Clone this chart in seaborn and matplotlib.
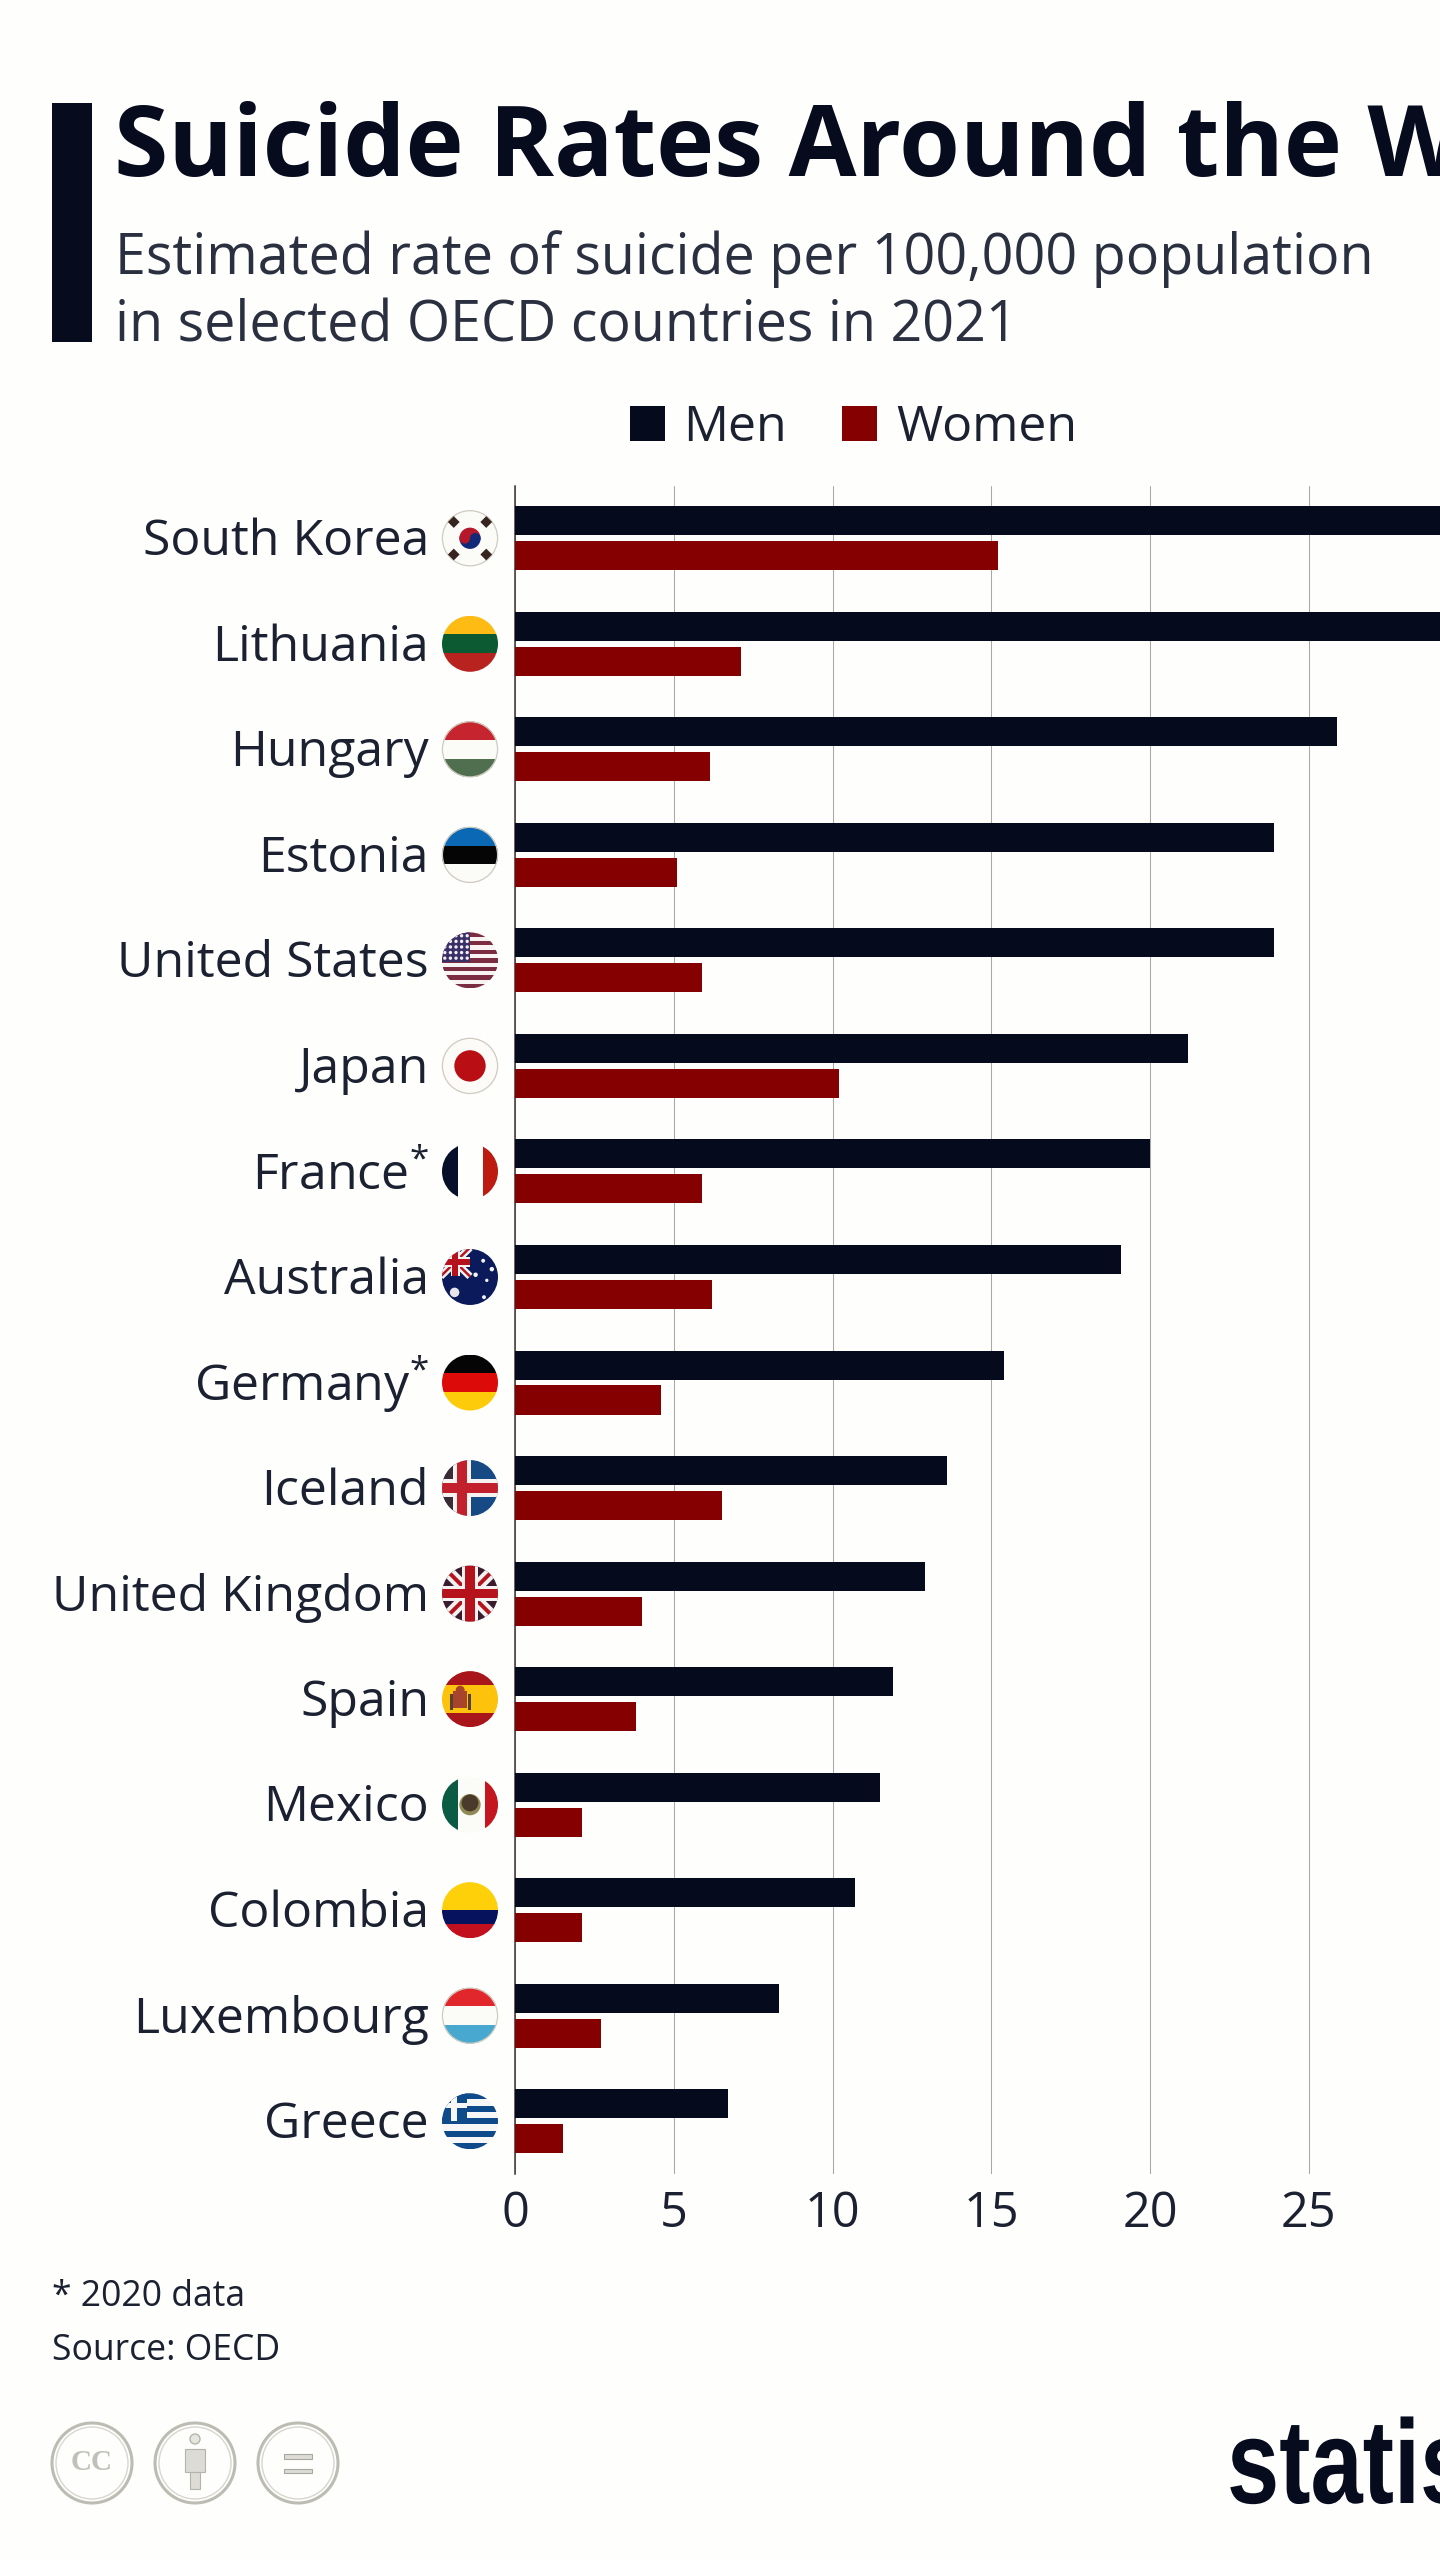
import numpy as np
import pandas as pd
import matplotlib
matplotlib.use("Agg")
import matplotlib.pyplot as plt
import seaborn as sns
from matplotlib.patches import Rectangle, Circle, Polygon, Wedge
from matplotlib.patheffects import AbstractPathEffect
from matplotlib.transforms import Affine2D, ScaledTranslation

countries = ["South Korea", "Lithuania", "Hungary", "Estonia", "United States", "Japan",
             "France", "Australia", "Germany", "Iceland", "United Kingdom", "Spain",
             "Mexico", "Colombia", "Luxembourg", "Greece"]
marked = ["France", "Germany"]
men = [35.3, 33.0, 25.9, 23.9, 23.9, 21.2, 20.0, 19.1, 15.4, 13.6, 12.9, 11.9, 11.5, 10.7, 8.3, 6.7]
women = [15.2, 7.1, 6.15, 5.1, 5.9, 10.2, 5.9, 6.2, 4.6, 6.5, 4.0, 3.8, 2.1, 2.1, 2.7, 1.5]
x_ticks = [0, 5, 10, 15, 20, 25]
series_names = ["Men", "Women"]

NAVY = "#050a1c"
RED = "#850000"
TEXT = "#1b2130"
BG = "#fefefd"

sns.set_theme(style="white")
plt.rcParams["font.family"] = ["Open Sans", "DejaVu Sans"]
plt.rcParams["mathtext.fontset"] = "custom"
plt.rcParams["mathtext.rm"] = "Open Sans"
plt.rcParams["mathtext.it"] = "Open Sans"
plt.rcParams["mathtext.bf"] = "Open Sans"
plt.rcParams["mathtext.default"] = "regular"

W, H = 1440, 2560
fig = plt.figure(figsize=(W / 100, H / 100), dpi=100, facecolor=BG)

ax = fig.add_axes([515.2 / W, 1 - 2174 / H, (W - 515.2) / W, (2174 - 485.5) / H])
ax.set_facecolor("none")

df = pd.DataFrame({
    "country": countries * 2,
    "rate": men + women,
    "sex": [series_names[0]] * len(men) + [series_names[1]] * len(women),
})
sns.barplot(data=df, y="country", x="rate", hue="sex", order=countries,
            hue_order=series_names, palette=[NAVY, RED], width=0.663, gap=0.17,
            saturation=1, errorbar=None, ax=ax, zorder=3, linewidth=0)

ax.set_xticks(x_ticks)
ax.set_xlim(0, (W - 515.2) / 31.74)
ax.set_ylim(len(countries) - 0.5, -0.5)
ax.set_xlabel("")
ax.set_ylabel("")
ax.grid(axis="x", color="#a9a9a3", linewidth=0.75, zorder=0)
ax.grid(axis="y", visible=False)
ax.set_axisbelow(True)
for s in ["top", "right", "bottom"]:
    ax.spines[s].set_visible(False)
ax.spines["left"].set_color("#3d3530")
ax.spines["left"].set_linewidth(1.1)
ax.tick_params(axis="x", length=0, pad=11, labelsize=35, labelcolor=TEXT)
ax.tick_params(axis="y", length=0, pad=62, labelsize=36, labelcolor=TEXT)
ax.set_yticks(range(len(countries)))
ax.set_yticklabels([c + r"$^{\mathrm{*}}$" if c in marked else c for c in countries])
label_nudge = {"France": 0.5, "Germany": 5.0}
for lab, c in zip(ax.get_yticklabels(), countries):
    lab.set_transform(lab.get_transform()
                      + ScaledTranslation(0, label_nudge.get(c, 2) / 100, fig.dpi_scale_trans))

handles, labels = ax.get_legend_handles_labels()
ax.get_legend().remove()
fig.legend(handles, labels, loc="center", bbox_to_anchor=(853.5 / W, 1 - 428.5 / H), ncols=2,
           frameon=False, fontsize=36, handlelength=0.7, handleheight=0.7,
           handletextpad=0.38, columnspacing=1.1, labelcolor=TEXT, borderpad=0)

ov = fig.add_axes([0, 0, 1, 1], zorder=5)
ov.set_xlim(0, W)
ov.set_ylim(H, 0)
ov.axis("off")
ov.patch.set_alpha(0)

ov.add_patch(Rectangle((52, 103), 40, 239, color="#060b1e", lw=0))
ov.text(113.5, 176, "Suicide Rates Around the World", fontsize=70.8, fontweight="bold",
        color="#060b1e", va="baseline", ha="left")
ov.text(115, 273.5, "Estimated rate of suicide per 100,000 population", fontsize=40.1,
        color="#2a3040", va="baseline")
ov.text(115, 341.5, "in selected OECD countries in 2021", fontsize=40.1,
        color="#2a3040", va="baseline")
ov.text(52, 2305.5, "* 2020 data", fontsize=25.6, color=TEXT, va="baseline")
ov.text(52, 2360, "Source: OECD", fontsize=25.6, color=TEXT, va="baseline")


class Squeeze(AbstractPathEffect):
    """Draws a text narrower about a given pixel, as a condensed face would be."""

    def __init__(self, x0, sx):
        super().__init__()
        self.x0, self.sx = x0, sx

    def draw_path(self, renderer, gc, tpath, affine, rgbFace=None):
        squeeze = Affine2D().translate(-self.x0, 0).scale(self.sx, 1).translate(self.x0, 0)
        renderer.draw_path(gc, tpath, affine + squeeze, rgbFace)


ov.text(1227, 2503, "statista", fontsize=86, fontweight="bold", color="#060b1e",
        va="baseline", family=["Liberation Sans"], path_effects=[Squeeze(1227, 0.786)])


def make_flag(cx, cy, r=28):
    T = Affine2D().scale(r, -r).translate(cx, cy) + ov.transData
    clip = Circle((0, 0), 1, transform=T, fc="none", ec="none")
    ov.add_patch(clip)

    def add(p):
        p.set_transform(T)
        ov.add_patch(p)
        p.set_clip_path(clip)
        return p

    def rect(x0, y0, x1, y1, c):
        return add(Rectangle((x0, y0), x1 - x0, y1 - y0, fc=c, ec="none"))

    def circ(x, y, rad, c):
        return add(Circle((x, y), rad, fc=c, ec="none"))

    def band(p0, p1, w, c):
        p0, p1 = np.array(p0, float), np.array(p1, float)
        d = p1 - p0
        n = np.array([-d[1], d[0]]) / np.hypot(*d) * w / 2
        return add(Polygon([p0 + n, p1 + n, p1 - n, p0 - n], fc=c, ec="none"))

    def hstripes(cols, stops=None):
        n = len(cols)
        stops = stops or [1 - 2 * k / n for k in range(n + 1)]
        for k, c in enumerate(cols):
            rect(-1.1, stops[k + 1], 1.1, stops[k], c)

    def vstripes(cols, stops):
        for k, c in enumerate(cols):
            rect(stops[k], -1.1, stops[k + 1], 1.1, c)

    def ring():
        ov.add_patch(Circle((0, 0), 0.985, transform=T, fc="none", ec="#cfcbc0", lw=0.9))

    return dict(rect=rect, circ=circ, band=band, h=hstripes, v=vstripes, ring=ring, add=add)


def union_jack(f, x0, y0, x1, y1, s=1.0):
    f["band"]((x0, y0), (x1, y1), 0.42 * s, "#f4f1f1")
    f["band"]((x0, y1), (x1, y0), 0.42 * s, "#f4f1f1")
    f["band"]((x0, y0), (x1, y1), 0.14 * s, "#b5121b")
    f["band"]((x0, y1), (x1, y0), 0.14 * s, "#b5121b")
    xm, ym = (x0 + x1) / 2, (y0 + y1) / 2
    f["rect"](xm - 0.27 * s, y0, xm + 0.27 * s, y1, "#f4f1f1")
    f["rect"](x0, ym - 0.27 * s, x1, ym + 0.27 * s, "#f4f1f1")
    f["rect"](xm - 0.17 * s, y0, xm + 0.17 * s, y1, "#b5121b")
    f["rect"](x0, ym - 0.17 * s, x1, ym + 0.17 * s, "#b5121b")


def kr(f):
    f["rect"](-1.1, -1.1, 1.1, 1.1, "#fbfbf8")
    f["ring"]()
    f["add"](Wedge((0, 0), 0.38, 0, 180, fc="#b5182a", ec="none"))
    f["add"](Wedge((0, 0), 0.38, 180, 360, fc="#102a78", ec="none"))
    f["circ"](-0.19, 0.0, 0.19, "#b5182a")
    f["circ"](0.19, 0.0, 0.19, "#102a78")
    for sx in (-1, 1):
        for sy in (-1, 1):
            q = np.array([[0, 0.21], [0.21, 0], [0, -0.21], [-0.21, 0]])
            f["add"](Polygon(q + [sx * 0.58, sy * 0.58], fc="#362420", ec="none"))


def lt(f):
    f["h"](["#fdbb14", "#0b5a31", "#b8231f"])


def hu(f):
    f["h"](["#c62530", "#fbfbf8", "#4f6f4e"])
    f["ring"]()


def ee(f):
    f["h"](["#0a68b4", "#050505", "#fbfbf8"])
    f["ring"]()


def us(f):
    for k in range(13):
        y1 = 1 - 2 * k / 13
        f["rect"](-1.1, y1 - 2 / 13, 1.1, y1, "#7c2c40" if k % 2 == 0 else "#f7f3f3")
    f["rect"](-1.1, -0.06, 0.0, 1.1, "#3a2f66")
    for x in np.arange(-0.9, 0.0, 0.2):
        for y in np.arange(0.08, 1.0, 0.2):
            f["circ"](x, y, 0.06, "#f2eef4")


def jp(f):
    f["rect"](-1.1, -1.1, 1.1, 1.1, "#fcfbf8")
    f["ring"]()
    f["circ"](0, 0, 0.56, "#b80e14")


def fr(f):
    f["v"](["#07102a", "#fefefd", "#bd1a10"], [-1.1, -0.42, 0.46, 1.1])


def au(f):
    f["rect"](-1.1, -1.1, 1.1, 1.1, "#0a1a5a")
    union_jack(f, -1.05, 0.02, 0, 1.05, s=0.62)
    f["circ"](-0.55, -0.55, 0.17, "#e6e6ea")
    for x, y, rad in [(0.47, 0.58, 0.07), (0.2, 0.08, 0.08), (0.78, 0.28, 0.08),
                      (0.6, -0.12, 0.06), (0.5, -0.72, 0.07)]:
        f["circ"](x, y, rad, "#f3f3f6")


def de(f):
    f["h"](["#050505", "#dd0a0a", "#fdcb0a"])


def is_(f):
    f["rect"](-1.1, -1.1, 1.1, 1.1, "#164a85")
    f["rect"](-1.1, -1.1, -0.55, 1.1, "#3a2b34")
    f["rect"](-0.62, -1.1, 0.05, 1.1, "#f5f2f0")
    f["rect"](-1.1, -0.32, 1.1, 0.32, "#f5f2f0")
    f["rect"](-0.48, -1.1, -0.1, 1.1, "#c2202c")
    f["rect"](-1.1, -0.17, 1.1, 0.17, "#c2202c")


def gb(f):
    f["rect"](-1.1, -1.1, 1.1, 1.1, "#3a1c2e")
    union_jack(f, -1.0, -1.0, 1.0, 1.0, s=1.0)


def es(f):
    f["h"](["#a8161c", "#fcc20c", "#a8161c"], [1, 0.5, -0.5, -1])
    f["rect"](-0.6, -0.3, -0.1, 0.3, "#a8442c")
    f["rect"](-0.72, -0.38, -0.62, 0.2, "#5a4030")
    f["rect"](-0.08, -0.38, 0.02, 0.2, "#5a4030")
    f["circ"](-0.35, 0.32, 0.16, "#a8442c")


def mx(f):
    f["v"](["#0b5a44", "#fbfbf8", "#c4161f"], [-1.1, -0.42, 0.54, 1.1])
    f["circ"](0, 0.0, 0.38, "#8f8a55")
    f["circ"](0, 0.06, 0.3, "#4a3a2a")


def co(f):
    f["h"](["#fdd00a", "#07125f", "#c2101f"], [1, 0.0, -0.5, -1])


def lu(f):
    f["h"](["#e1272c", "#fbfbf8", "#49a8cf"])
    f["ring"]()


def gr(f):
    blue, white = "#0f4a8a", "#f7f7f7"
    for k in range(9):
        y1 = 1 - 2 * k / 9
        f["rect"](-1.1, y1 - 2 / 9, 1.1, y1, blue if k % 2 == 0 else white)
    f["rect"](-1.1, -0.0, -0.1, 1.1, blue)
    f["rect"](-0.68, -0.0, -0.46, 1.1, white)
    f["rect"](-1.1, 0.46, -0.1, 0.66, white)


flag_funcs = [kr, lt, hu, ee, us, jp, fr, au, de, is_, gb, es, mx, co, lu, gr]
for i, fn in enumerate(flag_funcs):
    yc = H - ax.transData.transform((0, i))[1]
    fn(make_flag(470, yc, 28))

for cx in (92, 195, 298):
    ov.add_patch(Circle((cx, 2463), 40, fc="#fefefc", ec="#bdbcb3", lw=2.2))
    ov.add_patch(Circle((cx, 2463), 36, fc="none", ec="#d7d6cf", lw=1.0))
ov.text(92, 2463, "CC", fontsize=21, color="#c0bfb8", ha="center", va="center",
        family="Liberation Serif", fontweight="bold")
ov.add_patch(Circle((195, 2439), 5, fc="#e6e5df", ec="#b5b4ab", lw=1))
ov.add_patch(Rectangle((185, 2449), 20, 23, fc="#dcdbd5", ec="#b5b4ab", lw=0.8))
ov.add_patch(Rectangle((190, 2472), 10, 17, fc="#dcdbd5", ec="#b5b4ab", lw=0.8))
ov.add_patch(Rectangle((284, 2454), 28, 5, fc="#dcdbd5", ec="#a9a89f", lw=0.8))
ov.add_patch(Rectangle((284, 2469), 28, 4, fc="#dcdbd5", ec="#a9a89f", lw=0.8))

fig.savefig("out.png", dpi=100, facecolor=BG)
